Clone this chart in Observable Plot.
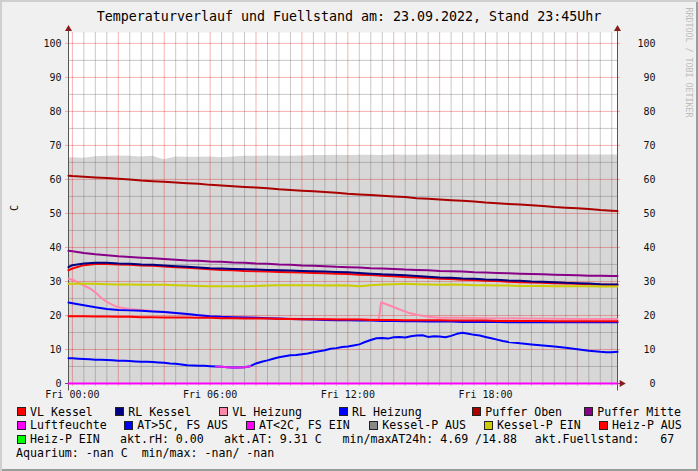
<!DOCTYPE html>
<html><head><meta charset="utf-8">
<script src="https://cdn.jsdelivr.net/npm/d3@7"></script>
<script src="https://cdn.jsdelivr.net/npm/@observablehq/plot@0.6"></script>
<style>
html,body{margin:0;padding:0;background:#f0f0f0;}
#wrap{position:relative;width:698px;height:471px;background:#f0f0f0;box-shadow:inset 2px 2px 0 #cfcfcf, inset -2px -2px 0 #9c9c9c;overflow:hidden;font-family:"DejaVu Sans Mono",monospace;}
#title{position:absolute;left:0;width:698px;top:8.5px;text-align:center;font-size:13.3px;line-height:16px;color:#000;white-space:pre;}
#chart{position:absolute;left:0;top:0;}
.lg{position:absolute;font-size:11.6px;line-height:14px;white-space:pre;color:#000;}
.sq{position:absolute;width:7px;height:7px;border:1px solid #222;}
</style></head>
<body>
<div id="wrap">
  <div id="chart"></div>
  <div id="title">Temperaturverlauf und Fuellstand am: 23.09.2022, Stand 23:45Uhr</div>
  <div id="legend"></div>
</div>
<script>
// ---------- data ----------
const hours = [-0.17, 0, 0.5, 1, 1.5, 2, 2.5, 3, 3.5, 4,
  4.5, 5, 5.5, 6, 6.5, 7, 7.5, 8, 8.5, 9,
  9.5, 10, 10.5, 11, 11.5, 12, 12.5, 13, 13.5, 14,
  14.5, 15, 15.5, 16, 16.5, 17, 17.5, 18, 18.5, 19,
  19.5, 20, 20.5, 21, 21.5, 22, 22.5, 23, 23.5, 23.75];

const fuellstand = [66.3, 66.4, 66.2, 66.7, 66.8, 66.9, 66.8, 66.6, 66.8, 65.8,
  66.6, 66.5, 66.5, 66.6, 66.4, 66.6, 66.8, 66.8, 66.9, 66.8,
  66.8, 66.9, 67.0, 67.0, 67.1, 67.0, 67.1, 67.1, 67.0, 67.2,
  67.1, 67.1, 67.2, 67.2, 67.1, 67.2, 67.2, 67.1, 67.2, 67.2,
  67.2, 67.1, 67.2, 67.2, 67.2, 67.2, 67.2, 67.2, 67.2, 67.2];

const pufferOben = [61.1, 61.0, 60.8, 60.6, 60.4, 60.2, 60.0, 59.7, 59.5, 59.3,
  59.1, 58.9, 58.7, 58.4, 58.2, 58.0, 57.8, 57.6, 57.4, 57.1,
  56.9, 56.7, 56.5, 56.3, 56.1, 55.8, 55.6, 55.4, 55.2, 55.0,
  54.8, 54.5, 54.3, 54.1, 53.9, 53.7, 53.5, 53.2, 53.0, 52.8,
  52.6, 52.4, 52.2, 51.9, 51.7, 51.5, 51.3, 51.0, 50.8, 50.7];

const pufferMitte = [39.0, 38.9, 38.4, 38.0, 37.7, 37.4, 37.2, 37.0, 36.8, 36.6,
  36.4, 36.2, 36.1, 35.9, 35.8, 35.6, 35.5, 35.3, 35.2, 35.0,
  34.9, 34.7, 34.6, 34.5, 34.3, 34.2, 34.1, 33.9, 33.8, 33.7,
  33.5, 33.4, 33.3, 33.1, 33.0, 32.9, 32.7, 32.6, 32.5, 32.4,
  32.3, 32.2, 32.1, 32.0, 31.9, 31.8, 31.7, 31.7, 31.6, 31.6];

const rlKessel = [34.2, 34.8, 35.3, 35.5, 35.5, 35.3, 35.2, 35.0, 34.9, 34.7,
  34.5, 34.3, 34.1, 33.9, 33.8, 33.7, 33.6, 33.5, 33.4, 33.3,
  33.2, 33.1, 33.0, 32.9, 32.8, 32.7, 32.5, 32.3, 32.1, 32.0,
  31.8, 31.6, 31.4, 31.2, 31.1, 30.9, 30.8, 30.6, 30.5, 30.3,
  30.2, 30.0, 29.9, 29.8, 29.6, 29.5, 29.4, 29.2, 29.1, 29.1];

const vlKessel = [33.3, 33.8, 34.8, 35.1, 35.1, 35.0, 34.9, 34.7, 34.6, 34.4,
  34.2, 34.0, 33.8, 33.6, 33.4, 33.3, 33.1, 33.0, 32.9, 32.8,
  32.7, 32.6, 32.5, 32.4, 32.3, 32.2, 32.0, 31.9, 31.7, 31.5,
  31.3, 31.2, 31.0, 30.8, 30.7, 30.5, 30.4, 30.2, 30.1, 29.9,
  29.8, 29.7, 29.6, 29.5, 29.4, 29.3, 29.2, 29.1, 29.0, 29.0];

const kesselPEin = [29.3, 29.3, 29.3, 29.3, 29.2, 29.1, 29.1, 29.0, 29.0, 29.0,
  28.9, 28.8, 28.7, 28.6, 28.6, 28.6, 28.6, 28.7, 28.8, 28.9,
  28.9, 28.9, 28.9, 28.8, 28.9, 28.8, 28.6, 28.9, 29.1, 29.2,
  29.3, 29.2, 29.1, 29.0, 29.1, 29.0, 28.9, 28.9, 28.8, 28.8,
  28.7, 28.7, 28.7, 28.6, 28.6, 28.6, 28.6, 28.5, 28.5, 28.5];

const rlHeizung = [23.8, 23.6, 23.0, 22.4, 21.9, 21.6, 21.5, 21.4, 21.2, 21.0,
  20.7, 20.4, 20.1, 19.8, 19.6, 19.5, 19.4, 19.3, 19.2, 19.1,
  19.0, 18.9, 18.8, 18.7, 18.6, 18.6, 18.5, 18.5, 18.4, 18.4,
  18.3, 18.3, 18.2, 18.2, 18.2, 18.1, 18.1, 18.1, 18.1, 18.0,
  18.0, 18.0, 18.0, 18.0, 18.0, 18.0, 18.0, 18.0, 18.0, 18.0];

const heizPAus = [19.8, 19.8, 19.8, 19.7, 19.7, 19.6, 19.6, 19.5, 19.5, 19.4,
  19.4, 19.4, 19.3, 19.3, 19.2, 19.2, 19.1, 19.1, 19.1, 19.0,
  19.0, 18.9, 18.9, 18.9, 18.8, 18.8, 18.8, 18.7, 18.7, 18.7,
  18.6, 18.6, 18.6, 18.6, 18.5, 18.5, 18.5, 18.5, 18.4, 18.4,
  18.4, 18.4, 18.4, 18.3, 18.3, 18.3, 18.3, 18.3, 18.3, 18.3];

const vlHeizHours = [-0.17, 0, 0.25, 0.5, 0.75, 1, 1.25, 1.5, 1.75, 2,
  2.5, 3, 3.5, 4, 5, 6, 7, 8, 10, 12,
  13, 13.35, 13.45, 13.8, 14.2, 14.6, 15, 15.5, 16, 17,
  18, 20, 22, 23.75];
const vlHeizung = [30.8, 30.5, 29.7, 28.8, 28.0, 26.8, 25.2, 24.0, 23.1, 22.4,
  21.9, 21.6, 21.3, 21.0, 20.4, 19.8, 19.5, 19.3, 19.0, 18.9,
  18.8, 18.8, 23.9, 23.0, 21.9, 20.9, 20.2, 19.6, 19.3, 19.3,
  19.2, 19.1, 19.0, 19.0];

const atHours = [-0.17,
  0, 0.25, 0.5, 0.75,   1, 1.25, 1.5, 1.75,   2, 2.25, 2.5, 2.75,   3, 3.25, 3.5, 3.75,
  4, 4.25, 4.5, 4.75,   5, 5.25, 5.5, 5.75,   6, 6.25, 6.5, 6.75,   7, 7.25, 7.5, 7.75,
  8, 8.25, 8.5, 8.75,   9, 9.25, 9.5, 9.75,   10, 10.25, 10.5, 10.75,   11, 11.25, 11.5, 11.75,
  12, 12.25, 12.5, 12.75,   13, 13.25, 13.5, 13.75,   14, 14.25, 14.5, 14.75,   15, 15.25, 15.5, 15.75,
  16, 16.25, 16.5, 16.75,   17, 17.25, 17.5, 17.75,   18, 18.25, 18.5, 18.75,
  19, 19.5, 20, 20.5, 21, 21.5, 22, 22.5, 23, 23.25, 23.5, 23.75];
const aussenTemp = [7.4,
  7.4, 7.3, 7.2, 7.1,   7.0, 7.0, 6.9, 6.8,   6.7, 6.7, 6.6, 6.5,   6.4, 6.4, 6.3, 6.2,
  6.1, 5.9, 5.8, 5.6,   5.4, 5.3, 5.2, 5.2,   5.1, 5.0, 4.9, 4.8,   4.7, 4.7, 4.8, 5.1,
  5.9, 6.4, 6.8, 7.3,   7.7, 8.0, 8.3, 8.4,   8.6, 8.8, 9.2, 9.5,   9.8, 10.2, 10.4, 10.7,
  10.9, 11.2, 11.5, 12.2,   12.8, 13.3, 13.4, 13.2,   13.6, 13.7, 13.5, 13.9,   14.1, 14.2, 13.7, 13.9,
  13.8, 13.6, 14.0, 14.6,   14.9, 14.6, 14.3, 14.1,   13.7, 13.3, 12.9, 12.5,
  12.2, 11.8, 11.5, 11.2, 10.9, 10.5, 10.1, 9.6, 9.3, 9.2, 9.2, 9.3];

const luftHours = [-0.17, 23.75];
const luftfeuchte = [0, 0];

const xTicks = [0, 6, 12, 18];
const xTickLabels = ["Fri 00:00", "Fri 06:00", "Fri 12:00", "Fri 18:00"];
const yTicks = [0, 10, 20, 30, 40, 50, 60, 70, 80, 90, 100];

const legendRow1 = ["VL Kessel", "RL Kessel", "VL Heizung", "RL Heizung", "Puffer Oben", "Puffer Mitte"];
const legendColors1 = ["#ff0000", "#000080", "#ff88aa", "#0000ff", "#aa0000", "#880088"];
const legendRow2 = ["Luftfeuchte", "AT>5C, FS AUS", "AT<2C, FS EIN", "Kessel-P AUS", "Kessel-P EIN", "Heiz-P AUS"];
const legendColors2 = ["#ff00ff", "#0000ff", "#ff00ff", "#888888", "#cccc00", "#ff0000"];
const legendRow3 = ["Heiz-P EIN"];
const legendColors3 = ["#00ff00"];
const infoRow3 = ["akt.rH: 0.00", "akt.AT: 9.31 C", "min/maxAT24h: 4.69 /14.88", "akt.Fuellstand:   67"];
const infoRow4 = ["Aquarium: -nan C  min/max: -nan/ -nan"];

// ---------- layout ----------
const xMin = -0.17, xMax = 23.75, yMax = 103.2;
const pxPerHour = 549 / (xMax - xMin), pxPerUnit = 351 / yMax;
const font = "DejaVu Sans Mono";

const pts = (xs, ys) => xs.map((h, i) => ({h, v: ys[i]}));
const atPts = pts(atHours, aussenTemp);
const lowIdx = new Set();
atPts.forEach((d, i) => { if (d.v < 5) { lowIdx.add(i - 1); lowIdx.add(i); lowIdx.add(i + 1); } });
const atLow = atPts.map((d, i) => lowIdx.has(i) ? d : {h: d.h, v: NaN});

const gridXs = d3.range(0, 24, 0.5);
const gridYs = d3.range(5, 104, 5);
const ext = 3 / pxPerHour, extY = 3 / pxPerUnit;
const RED = "rgba(224,0,0,0.3)";
const GREY = "rgba(100,100,100,0.35)";

const axisCol = "#555";
const arrowCol = "#8b1a1a";

const line = (data, color, w = 2) => Plot.line(data, {x: "h", y: "v", stroke: color, strokeWidth: w});

const chart = Plot.plot({
  width: 698, height: 400,
  marginLeft: 68, marginRight: 81, marginTop: 32, marginBottom: 17,
  style: {background: "transparent", overflow: "visible", fontFamily: font, fontSize: "10px"},
  x: {type: "linear", domain: [xMin, xMax], axis: null},
  y: {type: "linear", domain: [0, yMax], axis: null},
  color: {type: "identity"},
  marks: [
    Plot.frame({fill: "white", stroke: "none"}),
    Plot.areaY(pts(hours, fuellstand), {x: "h", y: "v", fill: "#d7d7d7"}),
    Plot.ruleX(gridXs, {x: d => d, y1: -extY, y2: yMax, stroke: d => (d % 2 === 0 ? RED : GREY)}),
    Plot.ruleY(gridYs, {y: d => d, x1: d => (d % 10 === 0 ? xMin - ext : xMin), x2: d => (d % 10 === 0 ? xMax + ext : xMax), stroke: d => (d % 10 === 0 ? RED : GREY)}),
    Plot.ruleX([xMin, xMax], {x: d => d, y1: -2.5 * extY, y2: yMax + 1.2, stroke: axisCol, strokeWidth: 1}),
    Plot.ruleY([0], {y: d => d, x1: xMin - ext, x2: xMax + 1.5 * ext, stroke: axisCol}),
    Plot.dot([xMin, xMax], {x: d => d, y: yMax + 1.0, symbol: "triangle", r: 2.6, fill: arrowCol, stroke: "none"}),
    Plot.dot([0], {x: xMax + 1.4 * ext, y: d => d, symbol: "triangle", r: 2.6, rotate: 90, fill: arrowCol, stroke: "none"}),
    line(pts(hours, vlKessel), "#ff0000"),
    line(pts(hours, rlKessel), "#000080"),
    line(pts(vlHeizHours, vlHeizung), "#ff88aa"),
    line(pts(hours, rlHeizung), "#0000ff"),
    line(pts(hours, pufferOben), "#aa0000"),
    line(pts(hours, pufferMitte), "#880088"),
    line(pts(luftHours, luftfeuchte), "#ff00ff"),
    line(atPts, "#0000ff"),
    line(atLow, "#ee22ee"),
    line(pts(hours, kesselPEin), "#cccc00"),
    line(pts(hours, heizPAus), "#ff0000"),
    Plot.text(yTicks, {y: d => d, text: d => String(d), frameAnchor: "left", dx: -7, textAnchor: "end", lineAnchor: "middle", fontSize: 10, fill: "#111"}),
    Plot.text(yTicks, {y: d => d, text: d => String(d), frameAnchor: "right", dx: 38, textAnchor: "end", lineAnchor: "middle", fontSize: 10, fill: "#111"}),
    Plot.text(xTicks, {x: d => d, text: (d, i) => xTickLabels[i], frameAnchor: "bottom", dy: 11.5, textAnchor: "middle", lineAnchor: "middle", fontSize: 10, fill: "#111"}),
    Plot.text(["C"], {text: d => d, frameAnchor: "left", dx: -54, rotate: -90, textAnchor: "middle", lineAnchor: "middle", fontSize: 10, fill: "#111"}),
    Plot.text(["RRDTOOL / TOBI OETIKER"], {text: d => d, frameAnchor: "top-right", dx: 71, dy: 30, rotate: 90, textAnchor: "middle", lineAnchor: "middle", fontSize: 8.3, fill: "#bcbcbc"})
  ]
});
document.getElementById("chart").appendChild(chart);

// ---------- legend ----------
const leg = document.getElementById("legend");
const rowCenters = [411.7, 425, 439.3, 453.3];
function addText(txt, x, cy) {
  const d = document.createElement("div");
  d.className = "lg"; d.textContent = txt;
  d.style.left = x + "px"; d.style.top = (cy - 7) + "px";
  leg.appendChild(d);
}
function addItem(txt, color, x, cy) {
  const s = document.createElement("div");
  s.className = "sq"; s.style.background = color;
  s.style.left = (x - 13.5) + "px"; s.style.top = (cy - 4.5) + "px";
  leg.appendChild(s);
  addText(txt, x, cy);
}
const row1X = [30, 128.3, 232.3, 352, 485.3, 597.3];
const row2X = [30, 137.3, 259, 382.3, 497, 612];
const row3X = [30];
const info3X = [120, 224, 342.5, 534.7];
const info4X = [16];
legendRow1.forEach((t, i) => addItem(t, legendColors1[i], row1X[i], rowCenters[0]));
legendRow2.forEach((t, i) => addItem(t, legendColors2[i], row2X[i], rowCenters[1]));
legendRow3.forEach((t, i) => addItem(t, legendColors3[i], row3X[i], rowCenters[2]));
infoRow3.forEach((t, i) => addText(t, info3X[i], rowCenters[2]));
infoRow4.forEach((t, i) => addText(t, info4X[i], rowCenters[3]));
</script>
</body></html>
